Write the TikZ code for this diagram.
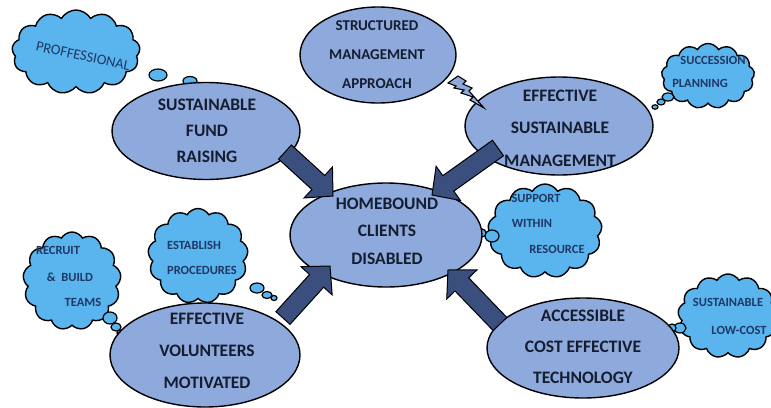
\documentclass[tikz,border=0pt]{standalone}
\usepackage{fontspec}
\setmainfont{Carlito}
\usetikzlibrary{shapes.geometric,shapes.symbols,calc}
\definecolor{ellfill}{HTML}{8EA9DB}
\definecolor{cloudfill}{HTML}{5AB4EE}
\definecolor{arrfill}{HTML}{3B4F7F}
\definecolor{txt}{HTML}{151D30}
\definecolor{ctxt}{HTML}{1F3864}
\tikzset{
  oval/.style={ellipse, draw=black, line width=1.4pt, fill=ellfill, inner sep=0pt},
  maintext/.style={align=center, text=txt, inner sep=0pt},
  cloudy/.style={cloud, cloud puffs=13, cloud puff arc=120, cloud ignores aspect, draw=black, line width=1.4pt, fill=cloudfill, inner sep=0pt},
  ctext/.style={text=ctxt, font=\bfseries\fontsize{12.5}{14}\selectfont, inner sep=0pt},
  bubble/.style={draw=black, line width=1.2pt, fill=cloudfill},
  arrstyle/.style={draw=black, line width=1pt, fill=arrfill, line join=miter},
  boltstyle/.style={draw=black, line width=1.1pt, fill=ellfill, line join=miter},
}
\newcommand\blockarrow[2]{%
  \draw[arrstyle] let \p1=(#1), \p2=(#2),
    \n1={atan2(\y2-\y1,\x2-\x1)} in
    ($(\p1)+(\n1+90:9.5pt)$) --
    ($(\p2)+(\n1+180:20pt)+(\n1+90:9.5pt)$) --
    ($(\p2)+(\n1+180:20pt)+(\n1+90:21pt)$) --
    (\p2) --
    ($(\p2)+(\n1+180:20pt)+(\n1-90:21pt)$) --
    ($(\p2)+(\n1+180:20pt)+(\n1-90:9.5pt)$) --
    ($(\p1)+(\n1-90:9.5pt)$) -- cycle;}
\begin{document}
\begin{tikzpicture}[x=1pt,y=-1pt]
\useasboundingbox (0,0) rectangle (771,407);
\fill[white] (0,0) rectangle (771,407);

% clouds
\node[cloudy, minimum width=128pt, minimum height=84pt] (c-prof) at (76,52) {};
\node[cloudy, minimum width=93pt, minimum height=65pt] (c-succ) at (708,76) {};
\node[cloudy, minimum width=114pt, minimum height=94pt] (c-supp) at (545,231) {};
\node[cloudy, minimum width=100pt, minimum height=84pt] (c-sust) at (728,316) {};
\node[cloudy, minimum width=100pt, minimum height=95pt] (c-est) at (198,256) {};
\node[cloudy, minimum width=98pt, minimum height=98pt] (c-rec) at (72,281) {};

% bubbles
\draw[bubble] (158,75) ellipse [x radius=9, y radius=6];
\draw[bubble] (190,81) ellipse [x radius=7, y radius=4.5];
\draw[bubble] (210,86) ellipse [x radius=4, y radius=3];
\draw[bubble] (668,97) ellipse [x radius=6, y radius=4];
\draw[bubble] (661,102) ellipse [x radius=4, y radius=3];
\draw[bubble] (655,107) ellipse [x radius=3, y radius=2.2];
\draw[bubble] (492,236) ellipse [x radius=7, y radius=6];
\draw[bubble] (482,233) ellipse [x radius=4, y radius=4];
\draw[bubble] (680,328) ellipse [x radius=6, y radius=5];
\draw[bubble] (672,328) ellipse [x radius=4, y radius=4];
\draw[bubble] (257,288) ellipse [x radius=7, y radius=5];
\draw[bubble] (267,295) ellipse [x radius=5, y radius=3.5];
\draw[bubble] (274,298) ellipse [x radius=3, y radius=2.5];
\draw[bubble] (110,318) ellipse [x radius=7, y radius=6];
\draw[bubble] (116,327) ellipse [x radius=5, y radius=4];
\draw[bubble] (120,333) ellipse [x radius=3, y radius=3];

% ellipses
\node[oval, minimum width=156pt, minimum height=96pt] (struct) at (378,55) {};
\node[oval, minimum width=188pt, minimum height=98pt] (esm) at (559,126) {};
\node[oval, minimum width=188pt, minimum height=97pt] (fund) at (206,131) {};
\node[oval, minimum width=192pt, minimum height=104pt] (home) at (386,235) {};
\node[oval, minimum width=190pt, minimum height=104pt] (vol) at (205,355) {};
\node[oval, minimum width=192pt, minimum height=100pt] (acc) at (583,348) {};

% lightning bolt
\draw[boltstyle] (448,83) -- (458,76) -- (466,81) -- (463,84) -- (472,88) -- (469,91)
  -- (484,108) -- (470,100) -- (473,97) -- (461,93) -- (464,90) -- (454,88) -- (456,86) -- cycle;

% block arrows
\coordinate (a1s) at (285,152); \coordinate (a1e) at (333,196);
\coordinate (a2s) at (498,148); \coordinate (a2e) at (432,195);
\coordinate (a3s) at (283,318); \coordinate (a3e) at (330,266);
\coordinate (a4s) at (500,324); \coordinate (a4e) at (448,270);
\blockarrow{a1s}{a1e}
\blockarrow{a2s}{a2e}
\blockarrow{a3s}{a3e}
\blockarrow{a4s}{a4e}

% main texts
\node[maintext, font=\bfseries\fontsize{15}{29}\selectfont] (t-struct) at (377,55) {STRUCTURED\\MANAGEMENT\\APPROACH};
\node[maintext, font=\bfseries\fontsize{17.5}{32.5}\selectfont] (t-esm) at (560,128) {EFFECTIVE\\SUSTAINABLE\\MANAGEMENT};
\node[maintext, font=\bfseries\fontsize{17.5}{26}\selectfont] (t-fund) at (207,131) {SUSTAINABLE\\FUND\\RAISING};
\node[maintext, font=\bfseries\fontsize{17.5}{27.5}\selectfont] (t-home) at (387,231) {HOMEBOUND\\CLIENTS\\DISABLED};
\node[maintext, font=\bfseries\fontsize{17.5}{32}\selectfont] (t-vol) at (207,351) {EFFECTIVE\\VOLUNTEERS\\MOTIVATED};
\node[maintext, font=\bfseries\fontsize{17.5}{31}\selectfont] (t-acc) at (583,347) {ACCESSIBLE\\COST EFFECTIVE\\TECHNOLOGY};

% cloud texts
\node[ctext, font=\fontsize{14.5}{16}\selectfont, rotate=-12] (t-prof) at (83,56) {PROFFESSIONAL};
\node[ctext] (t-succ1) at (713,60) {SUCCESSION};
\node[ctext] (t-succ2) at (700,83) {PLANNING};
\node[ctext] (t-supp1) at (536,198) {SUPPORT};
\node[ctext] (t-supp2) at (532,223) {WITHIN};
\node[ctext] (t-supp3) at (557,249) {RESOURCE};
\node[ctext] (t-sust1) at (728,302) {SUSTAINABLE};
\node[ctext] (t-sust2) at (739,330) {LOW-COST};
\node[ctext] (t-est1) at (194,245) {ESTABLISH};
\node[ctext] (t-est2) at (202,270) {PROCEDURES};
\node[ctext] (t-rec1) at (58,250) {RECRUIT};
\node[ctext] (t-rec2) at (70,277) {\&\ \ BUILD};
\node[ctext] (t-rec3) at (83,302) {TEAMS};
\end{tikzpicture}
\end{document}
